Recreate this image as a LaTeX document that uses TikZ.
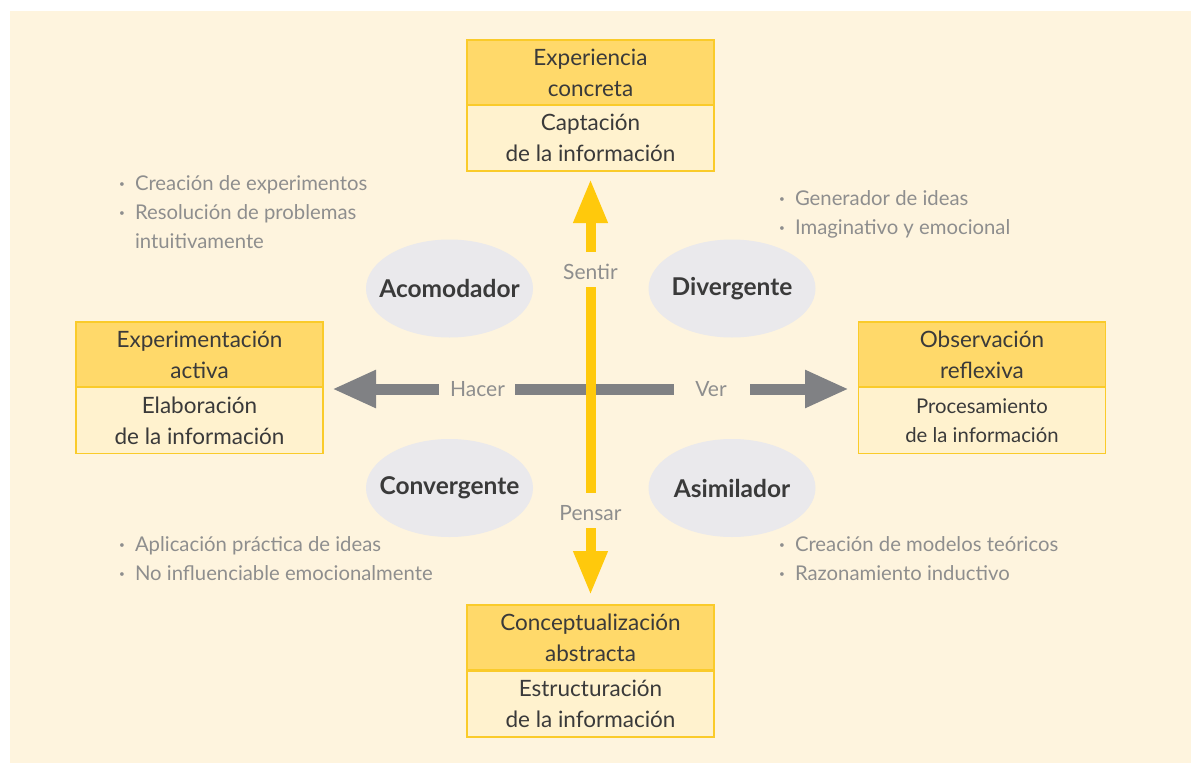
\documentclass[tikz,border=0pt]{standalone}
\usepackage{fontspec}
\setmainfont{Lato}
\usetikzlibrary{arrows.meta,shapes.geometric}
\definecolor{bgc}{HTML}{FEF4DE}
\definecolor{hdrfill}{HTML}{FFD96A}
\definecolor{bodyfill}{HTML}{FFF2CE}
\definecolor{boxline}{HTML}{FACB2A}
\definecolor{yarr}{HTML}{FFC90C}
\definecolor{garr}{HTML}{808184}
\definecolor{ellc}{HTML}{EAE9EC}
\definecolor{txt}{HTML}{3A3A3A}
\definecolor{ltxt}{HTML}{8E8E8E}
\tikzset{
  hdr/.style={draw=boxline, line width=1.2pt, fill=hdrfill, minimum width=247pt, minimum height=65pt, inner sep=0pt, align=center, text=txt, font=\fontsize{22.5}{31}\selectfont},
  bdy/.style={hdr, fill=bodyfill, minimum height=66pt},
  ell/.style={ellipse, fill=ellc, minimum width=167pt, minimum height=98pt, inner sep=0pt},
  elltxt/.style={inner sep=0pt, text=txt, font=\fontsize{24.5}{28}\selectfont\bfseries},
  lbl/.style={text=ltxt, inner sep=0pt, font=\fontsize{21}{24}\selectfont},
  lst/.style={text=ltxt, inner sep=0pt, anchor=base west, align=left, font=\fontsize{20.3}{29}\selectfont},
  yline/.style={draw=yarr, line width=10pt},
  gline/.style={draw=garr, line width=11pt},
  ytip/.style={-{Triangle[width=32pt,length=44pt]}},
  gtip/.style={-{Triangle[width=35pt,length=44pt]}},
}
\newcommand{\bul}{\raisebox{0.28ex}{\fontsize{10}{10}\selectfont •}}
\begin{document}
\begin{tikzpicture}[x=1pt,y=-1pt]
\useasboundingbox (0,0) rectangle (1191,763);
\fill[bgc] (10,11) rectangle (1191,763);

% boxes
\node[hdr] (toph) at (590.5,72.5) {Experiencia\\concreta};
\node[bdy] (topb) at (590.5,138) {Captación\\de la información};
\node[hdr] (lefth) at (199.5,354.5) {Experimentación\\activa};
\node[bdy] (leftb) at (199.5,420.5) {Elaboración\\de la información};
\node[hdr] (righth) at (982,354.5) {Observación\\reflexiva};
\node[bdy, font=\fontsize{20.3}{29}\selectfont] (rightb) at (982,420.5) {Procesamiento\\de la información};
\node[hdr] (both) at (590.5,637.5) {Conceptualización\\abstracta};
\node[bdy] (botb) at (590.5,704) {Estructuración\\de la información};

% ellipses
\node[ell] (acom) at (449.5,288.5) {};
\node[ell] (dive) at (732,288.5) {};
\node[ell] (conv) at (449.5,488) {};
\node[ell] (asim) at (732,488) {};
\node[elltxt] (acomt) at (acom) {Acomodador};
\node[elltxt] (divet) at (dive) {Divergente};
\node[elltxt] (convt) at (conv) {Convergente};
\node[elltxt] (asimt) at (asim) {Asimilador};

% axis labels
\node[lbl] (sentir) at (590.5,272) {Sentir};
\node[lbl] (pensar) at (590.5,513) {Pensar};
\node[lbl] (hacer) at (477.5,389) {Hacer};
\node[lbl] (ver) at (711,389) {Ver};

% arrow coordinates
\coordinate (gL1) at (439,389);
\coordinate (gLt) at (332,389);
\coordinate (gM1) at (515,389);
\coordinate (gM2) at (674,389);
\coordinate (gR1) at (750,389);
\coordinate (gRt) at (849,389);
\coordinate (yT1) at (590.5,252);
\coordinate (yTt) at (590.5,179);
\coordinate (yM1) at (590.5,287);
\coordinate (yM2) at (590.5,493);
\coordinate (yB1) at (590.5,528);
\coordinate (yBt) at (590.5,595);

\draw[gline,gtip] (gL1) -- (gLt);
\draw[gline] (gM1) -- (gM2);
\draw[gline,gtip] (gR1) -- (gRt);
\draw[yline,ytip] (yT1) -- (yTt);
\draw[yline] (yM1) -- (yM2);
\draw[yline,ytip] (yB1) -- (yBt);

% lists
\node[lst] (l1) at (119,190) {\begin{tabular}[t]{@{}l@{\hspace{10pt}}l@{}}\bul & Creación de experimentos\\ \bul & Resolución de problemas\\ & intuitivamente\end{tabular}};
\node[lst] (l2) at (779,205) {\begin{tabular}[t]{@{}l@{\hspace{10pt}}l@{}}\bul & Generador de ideas\\ \bul & Imaginativo y emocional\end{tabular}};
\node[lst] (l3) at (119,551) {\begin{tabular}[t]{@{}l@{\hspace{10pt}}l@{}}\bul & Aplicación práctica de ideas\\ \bul & No influenciable emocionalmente\end{tabular}};
\node[lst] (l4) at (779,551) {\begin{tabular}[t]{@{}l@{\hspace{10pt}}l@{}}\bul & Creación de modelos teóricos\\ \bul & Razonamiento inductivo\end{tabular}};
\end{tikzpicture}
\end{document}
